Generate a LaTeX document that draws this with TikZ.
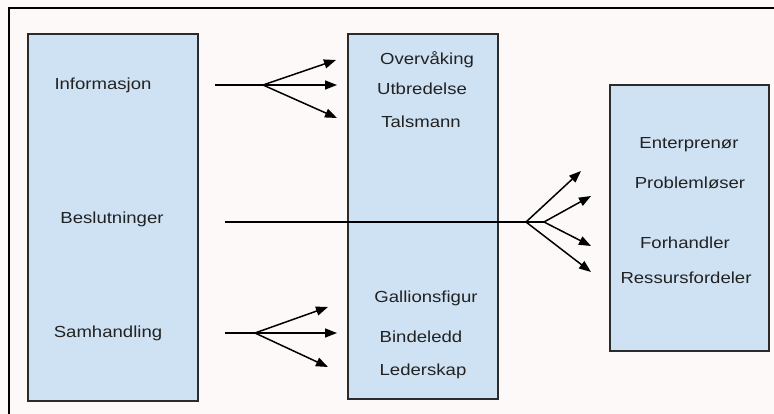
\documentclass[tikz,border=0pt]{standalone}
\usepackage{fontspec}
\setmainfont{Liberation Sans}
\newfontfamily\lbl[FakeStretch=1.16]{Liberation Sans}
\usetikzlibrary{arrows.meta}
\definecolor{boxfill}{HTML}{CFE2F3}
\definecolor{boxline}{HTML}{2B2B2B}
\definecolor{bg}{HTML}{FDF9F9}
\definecolor{txt}{HTML}{222222}
\begin{document}
\begin{tikzpicture}[x=1pt,y=-1pt,
  panel/.style={draw=boxline,line width=1.6pt,fill=boxfill},
  lab/.style={font=\lbl\fontsize{16}{18}\selectfont,text=txt,inner sep=0pt,anchor=center},
  conn/.style={line width=1.5pt,draw=black},
  arr/.style={conn,-{Triangle[length=12pt,width=9pt]}}]
\useasboundingbox (0,0) rectangle (774,414);
\fill[bg] (0,0) rectangle (774,414);
\draw[line width=2pt] (9,414) -- (9,8) -- (774,8);
% boxes
\node[panel,minimum width=170pt,minimum height=367pt,anchor=north west] (L) at (27,33) {};
\node[panel,minimum width=150pt,minimum height=365pt,anchor=north west] (M) at (347,33) {};
\node[panel,minimum width=159pt,minimum height=266pt,anchor=north west] (R) at (609,84) {};
% left labels
\node[lab] (info) at (103,85) {Informasjon};
\node[lab] (besl) at (112,219) {Beslutninger};
\node[lab] (samh) at (108,333) {Samhandling};
% middle labels
\node[lab] (ov) at (427,60) {Overvåking};
\node[lab] (ut) at (422,89) {Utbredelse};
\node[lab] (ta) at (421,122) {Talsmann};
\node[lab] (ga) at (426,298) {Gallionsfigur};
\node[lab] (bi) at (421,337) {Bindeledd};
\node[lab] (le) at (423,371) {Lederskap};
% right labels
\node[lab] (en) at (689,145) {Enterprenør};
\node[lab] (pr) at (690,183) {Problemløser};
\node[lab] (fo) at (685,243) {Forhandler};
\node[lab] (re) at (686,278) {Ressursfordeler};
% coordinates
\coordinate (i0) at (215,85);
\coordinate (ih) at (263,85);
\coordinate (i1) at (336,60);
\coordinate (i2) at (337,85);
\coordinate (i3) at (337,118);
\coordinate (s0) at (225,333);
\coordinate (sh) at (255,333);
\coordinate (s1) at (328,307);
\coordinate (s2) at (337,333);
\coordinate (s3) at (328,367);
\coordinate (b0) at (225,222);
\coordinate (bh) at (526,222);
\coordinate (bh2) at (544,222);
\coordinate (b1) at (581,171);
\coordinate (b2) at (591,196);
\coordinate (b3) at (591,246);
\coordinate (b4) at (591,272);
% connectors
\draw[conn] (i0) -- (ih);
\draw[arr] (ih) -- (i1);
\draw[arr] (ih) -- (i2);
\draw[arr] (ih) -- (i3);
\draw[conn] (s0) -- (sh);
\draw[arr] (sh) -- (s1);
\draw[arr] (sh) -- (s2);
\draw[arr] (sh) -- (s3);
\draw[conn] (b0) -- (bh2);
\draw[arr] (bh) -- (b1);
\draw[arr] (bh2) -- (b2);
\draw[arr] (bh2) -- (b3);
\draw[arr] (bh) -- (b4);
\end{tikzpicture}
\end{document}
